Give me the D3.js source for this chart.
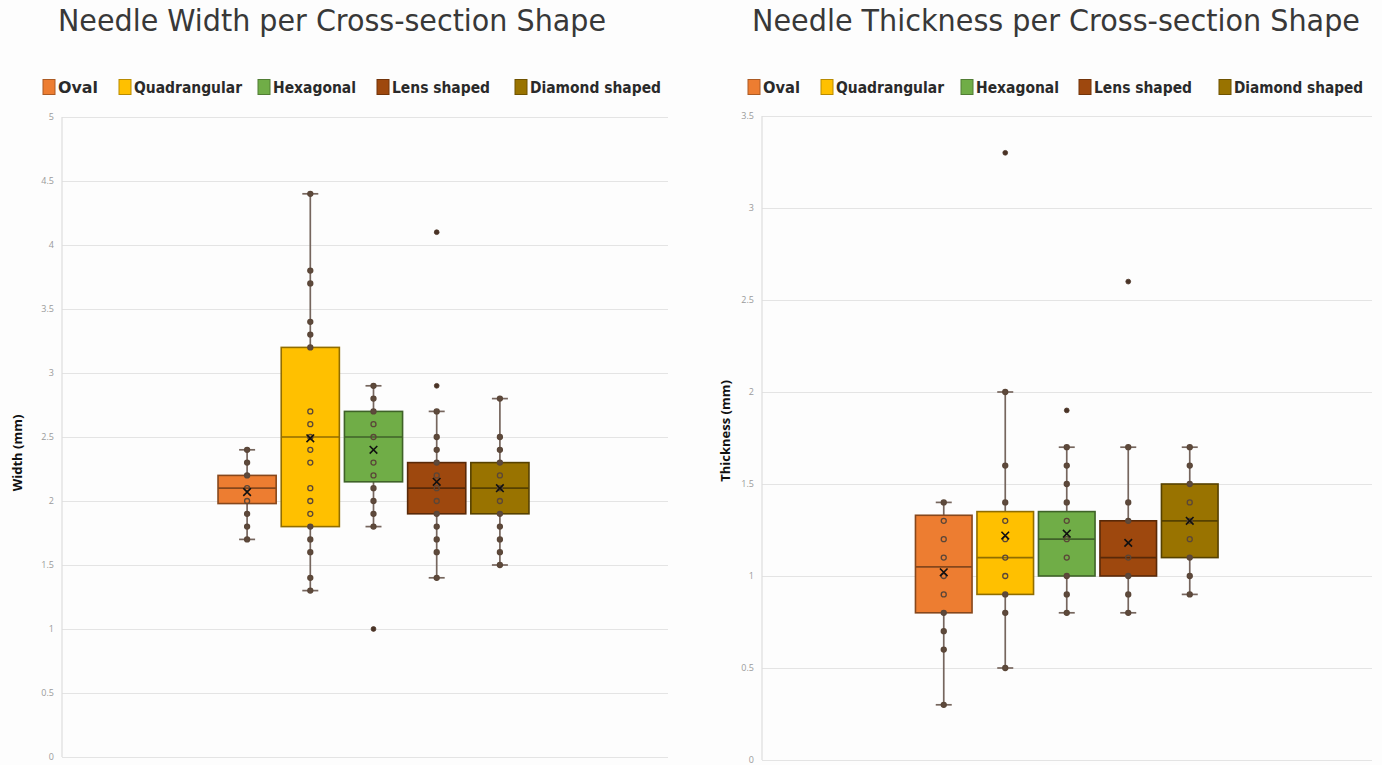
<!DOCTYPE html>
<html>
<head>
<meta charset="utf-8">
<script src="https://cdn.jsdelivr.net/npm/d3@7"></script>
<style>
  html, body { margin: 0; padding: 0; background: #fdfdfd; }
  svg { display: block; }
</style>
</head>
<body>
<svg id="chart" width="1382" height="765"></svg>
<script>
// ---------- DATA ----------
const series = ["Oval", "Quadrangular", "Hexagonal", "Lens shaped", "Diamond shaped"];
const seriesColors = ["#ED7D31", "#FFC000", "#70AD47", "#9E480E", "#997300"];
const yTicksWidth = [0, 0.5, 1, 1.5, 2, 2.5, 3, 3.5, 4, 4.5, 5];
const yTicksThick = [0, 0.5, 1, 1.5, 2, 2.5, 3, 3.5];

// Needle width (mm)
const widthPoints = [
  [2.4, 2.3, 2.2, 2.1, 2.0, 1.9, 1.8, 1.7],
  [4.4, 3.8, 3.7, 3.4, 3.3, 3.2, 2.7, 2.6, 2.5, 2.4, 2.3, 2.1, 2.0, 1.9, 1.8, 1.7, 1.6, 1.4, 1.3],
  [2.9, 2.8, 2.7, 2.6, 2.5, 2.3, 2.2, 2.1, 2.0, 1.9, 1.8],
  [2.7, 2.5, 2.4, 2.3, 2.2, 2.1, 2.0, 1.9, 1.8, 1.7, 1.6, 1.4],
  [2.8, 2.5, 2.4, 2.3, 2.2, 2.1, 2.0, 1.9, 1.8, 1.7, 1.6, 1.5]
];
const widthOutliers = [[], [], [1.0], [4.1, 2.9], []];
const widthLow    = [1.7, 1.3, 1.8, 1.4, 1.5];
const widthQ1     = [1.98, 1.8, 2.15, 1.9, 1.9];
const widthMedian = [2.1, 2.5, 2.5, 2.1, 2.1];
const widthQ3     = [2.2, 3.2, 2.7, 2.3, 2.3];
const widthHigh   = [2.4, 4.4, 2.9, 2.7, 2.8];
const widthMean   = [2.07, 2.49, 2.4, 2.15, 2.1];

// Needle thickness (mm)
const thickPoints = [
  [1.4, 1.3, 1.2, 1.1, 1.0, 0.9, 0.8, 0.7, 0.6, 0.3],
  [2.0, 1.6, 1.4, 1.3, 1.2, 1.1, 1.0, 0.9, 0.8, 0.5],
  [1.7, 1.6, 1.5, 1.4, 1.3, 1.2, 1.1, 1.0, 0.9, 0.8],
  [1.7, 1.4, 1.3, 1.1, 1.0, 0.9, 0.8],
  [1.7, 1.6, 1.5, 1.4, 1.3, 1.2, 1.1, 1.0, 0.9]
];
const thickOutliers = [[], [3.3], [1.9], [2.6], []];
const thickLow    = [0.3, 0.5, 0.8, 0.8, 0.9];
const thickQ1     = [0.8, 0.9, 1.0, 1.0, 1.1];
const thickMedian = [1.05, 1.1, 1.2, 1.1, 1.3];
const thickQ3     = [1.33, 1.35, 1.35, 1.3, 1.5];
const thickHigh   = [1.4, 2.0, 1.7, 1.7, 1.7];
const thickMean   = [1.02, 1.22, 1.23, 1.18, 1.3];

// ---------- DRAWING ----------
const svg = d3.select("#chart");
const titleFont = "'DejaVu Sans Condensed', 'DejaVu Sans', sans-serif";
const legendFont = "'DejaVu Sans Condensed', 'DejaVu Sans', sans-serif";
const tickFont = "'Open Sans', 'Liberation Sans', sans-serif";

function drawChart(cfg) {
  const g = svg.append("g");

  // Title
  g.append("text")
    .attr("x", cfg.titleX).attr("y", 31)
    .attr("font-family", titleFont)
    .attr("font-stretch", "condensed")
    .attr("font-size", 30)
    .attr("fill", "#383838")
    .attr("textLength", cfg.titleLen)
    .attr("lengthAdjust", "spacingAndGlyphs")
    .text(cfg.title);

  // Legend
  const leg = g.append("g").attr("transform", `translate(${cfg.legendX},0)`);
  let lx = 0;
  series.forEach((s, i) => {
    const item = leg.append("g").attr("transform", `translate(${lx},0)`);
    item.append("rect")
      .attr("x", 0).attr("y", 79.5).attr("width", 12).attr("height", 15)
      .attr("fill", seriesColors[i])
      .attr("stroke", d3.color(seriesColors[i]).darker(0.9))
      .attr("stroke-width", 1);
    item.append("text")
      .attr("x", 15).attr("y", 92.5)
      .attr("font-family", legendFont)
      .attr("font-stretch", "condensed")
      .attr("font-weight", "bold")
      .attr("font-size", 15)
      .attr("fill", "#2a2a2a")
      .attr("textLength", cfg.legendTextLen[i])
      .attr("lengthAdjust", "spacingAndGlyphs")
      .text(s);
    lx += 15 + cfg.legendTextLen[i] + cfg.legendGap[i];
  });

  // Scales
  const y = d3.scaleLinear().domain(cfg.yDomain).range([cfg.plotBottom, cfg.plotTop]);
  const x = d3.scaleBand().domain(series).range(cfg.groupRange).padding(0);
  const boxW = x.bandwidth() * 0.92;
  const capW = 16;

  // Grid + axis
  const axis = d3.axisLeft(y)
    .tickValues(cfg.ticks)
    .tickSize(-(cfg.plotRight - cfg.plotLeft))
    .tickPadding(8)
    .tickFormat(d => String(d));
  const ax = g.append("g")
    .attr("transform", `translate(${cfg.plotLeft},0)`)
    .call(axis);
  ax.select(".domain").remove();
  ax.selectAll(".tick line").attr("stroke", "#e4e4e4").attr("stroke-width", 1.2);
  ax.selectAll(".tick text")
    .attr("font-family", tickFont).attr("font-size", 9).attr("fill", "#9a9a9a");
  g.append("line")
    .attr("x1", cfg.plotLeft).attr("x2", cfg.plotLeft)
    .attr("y1", cfg.plotTop).attr("y2", cfg.plotBottom)
    .attr("stroke", "#dedede").attr("stroke-width", 1.2);

  // Axis title
  g.append("text")
    .attr("transform", `translate(${cfg.axisTitleX},${cfg.axisTitleY}) rotate(-90)`)
    .attr("text-anchor", "middle")
    .attr("font-family", "'Open Sans', 'Liberation Sans', sans-serif")
    .attr("font-weight", "bold")
    .attr("font-size", 13)
    .attr("fill", "#111")
    .text(cfg.axisTitle);

  // Boxes
  series.forEach((s, i) => {
    const cx = x(s) + x.bandwidth() / 2;
    const col = seriesColors[i];
    const dark = d3.color(col).darker(1.6).formatHex();
    const bg = g.append("g");
    const whiskerCol = "#76665e";
    // whisker line
    bg.append("line")
      .attr("x1", cx).attr("x2", cx)
      .attr("y1", y(cfg.low[i])).attr("y2", y(cfg.high[i]))
      .attr("stroke", whiskerCol).attr("stroke-width", 1.7);
    [cfg.low[i], cfg.high[i]].forEach(v => {
      bg.append("line")
        .attr("x1", cx - capW / 2).attr("x2", cx + capW / 2)
        .attr("y1", y(v)).attr("y2", y(v))
        .attr("stroke", whiskerCol).attr("stroke-width", 1.7);
    });
    // box
    bg.append("rect")
      .attr("x", cx - boxW / 2).attr("width", boxW)
      .attr("y", y(cfg.q3[i])).attr("height", y(cfg.q1[i]) - y(cfg.q3[i]))
      .attr("fill", col).attr("stroke", dark).attr("stroke-width", 1.6);
    // median
    bg.append("line")
      .attr("x1", cx - boxW / 2).attr("x2", cx + boxW / 2)
      .attr("y1", y(cfg.median[i])).attr("y2", y(cfg.median[i]))
      .attr("stroke", dark).attr("stroke-width", 1.7);
    // inner points (hollow inside the box, filled along the whiskers)
    bg.selectAll("circle.pt").data(cfg.points[i]).join("circle")
      .attr("class", "pt")
      .attr("cx", cx).attr("cy", d => y(d)).attr("r", 2.5)
      .attr("fill", d => (d > cfg.q1[i] && d < cfg.q3[i]) ? "none" : "#5e4a3c")
      .attr("stroke", "#5a4638").attr("stroke-width", 1.3);
    // outliers
    bg.selectAll("circle.out").data(cfg.outliers[i]).join("circle")
      .attr("class", "out")
      .attr("cx", cx).attr("cy", d => y(d)).attr("r", 2.4)
      .attr("fill", "#4a3326").attr("stroke", "#4a3326").attr("stroke-width", 0.8);
    // mean marker (x)
    const my = y(cfg.mean[i]);
    const m = 3.8;
    bg.append("path")
      .attr("d", `M${cx - m},${my - m}L${cx + m},${my + m}M${cx - m},${my + m}L${cx + m},${my - m}`)
      .attr("stroke", "#111").attr("stroke-width", 1.6).attr("fill", "none");
  });
}

drawChart({
  title: "Needle Width per Cross-section Shape",
  titleX: 58, titleLen: 548,
  legendX: 43,
  legendTextLen: [40, 108, 83, 98, 131],
  legendGap: [21, 16, 21, 25, 0],
  yDomain: [0, 5], ticks: yTicksWidth,
  plotTop: 117, plotBottom: 757, plotLeft: 62, plotRight: 668,
  groupRange: [215.5, 531.5],
  axisTitle: "Width (mm)", axisTitleX: 22, axisTitleY: 453,
  points: widthPoints, outliers: widthOutliers,
  low: widthLow, q1: widthQ1, median: widthMedian, q3: widthQ3, high: widthHigh, mean: widthMean
});

drawChart({
  title: "Needle Thickness per Cross-section Shape",
  titleX: 752, titleLen: 608,
  legendX: 748,
  legendTextLen: [37, 108, 83, 98, 129],
  legendGap: [21, 17, 20, 27, 0],
  yDomain: [0, 3.5], ticks: yTicksThick,
  plotTop: 116, plotBottom: 760, plotLeft: 762, plotRight: 1372,
  groupRange: [913, 1220.5],
  axisTitle: "Thickness (mm)", axisTitleX: 730, axisTitleY: 431,
  points: thickPoints, outliers: thickOutliers,
  low: thickLow, q1: thickQ1, median: thickMedian, q3: thickQ3, high: thickHigh, mean: thickMean
});
</script>
</body>
</html>
